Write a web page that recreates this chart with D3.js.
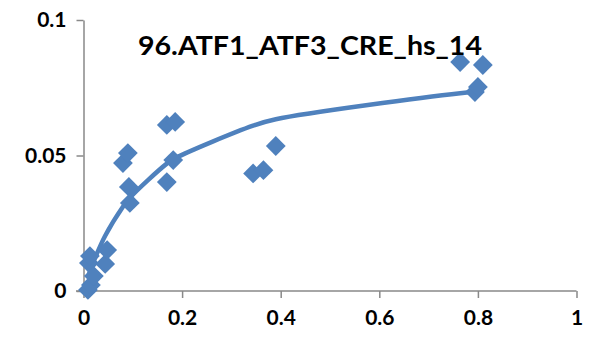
<!DOCTYPE html>
<html><head><meta charset="utf-8">
<script src="https://cdn.jsdelivr.net/npm/d3@7"></script>
<style>body{margin:0;background:#fff}svg{display:block}</style>
</head><body>
<svg id="c" width="596" height="341"></svg>
<script>
const title = "96.ATF1_ATF3_CRE_hs_14";
const xTicks = [0, 0.2, 0.4, 0.6, 0.8, 1];
const yTicks = [0, 0.05, 0.1];
const pointX = [0.009, 0.011, 0.013, 0.015, 0.021, 0.044, 0.048, 0.080, 0.090, 0.092, 0.094, 0.169, 0.169, 0.182, 0.186, 0.344, 0.365, 0.390, 0.764, 0.794, 0.800, 0.810];
const pointY = [0.0004, 0.0103, 0.0129, 0.0022, 0.0055, 0.0100, 0.0151, 0.0472, 0.0509, 0.0384, 0.0325, 0.0613, 0.0402, 0.0483, 0.0624, 0.0434, 0.0446, 0.0535, 0.0845, 0.0734, 0.0753, 0.0834];
const fitX = [0.009, 0.015, 0.021, 0.044, 0.080, 0.094, 0.169, 0.186, 0.344, 0.390, 0.764, 0.810];
const fitY = [0.0051, 0.0082, 0.0111, 0.0204, 0.0311, 0.0344, 0.0470, 0.0490, 0.0610, 0.0634, 0.0730, 0.0737];

const svg = d3.select("#c");
const x = d3.scaleLinear().domain([0, 1]).range([83.5, 576.5]);
const y = d3.scaleLinear().domain([0, 0.1]).range([291, 20]);
const blue = "#4F81BD", axisCol = "#898989";
const font = "Lato, 'Open Sans', sans-serif";

const xa = svg.append("g").attr("transform", "translate(0,291)")
  .call(d3.axisBottom(x).tickValues(xTicks).tickSize(7).tickSizeOuter(0).tickPadding(12).tickFormat(d3.format("")));
const ya = svg.append("g").attr("transform", "translate(83.5,0)")
  .call(d3.axisLeft(y).tickValues(yTicks).tickSize(7).tickSizeOuter(0).tickPadding(10).tickFormat(d3.format("")));
[xa, ya].forEach(g => {
  g.select(".domain").attr("stroke", axisCol).attr("stroke-width", 1.5);
  g.selectAll(".tick line").attr("stroke", axisCol).attr("stroke-width", 1.5);
  g.selectAll("text").attr("fill", "#000").style("font-family", font).style("font-weight", "bold").style("font-size", "21px");
});
xa.select(".domain").attr("d", "M76,0H576.5");

const line = d3.line().x((d, i) => x(fitX[i])).y((d, i) => y(fitY[i])).curve(d3.curveCatmullRom.alpha(0.5));
svg.append("path").datum(fitX).attr("d", line).attr("fill", "none").attr("stroke", blue).attr("stroke-width", 4.5).attr("stroke-linejoin", "round");

const sym = d3.symbol().type(d3.symbolSquare).size(196);
svg.append("g").selectAll("path").data(pointX).join("path")
  .attr("d", sym)
  .attr("transform", (d, i) => `translate(${x(d)},${y(pointY[i])}) rotate(45)`)
  .attr("fill", blue);

svg.append("text").attr("x", 310).attr("y", 55).attr("text-anchor", "middle")
  .attr("textLength", 344).attr("lengthAdjust", "spacingAndGlyphs")
  .style("font-family", font).style("font-weight", "bold").style("font-size", "26px")
  .attr("fill", "#000").text(title);
</script>
</body></html>
